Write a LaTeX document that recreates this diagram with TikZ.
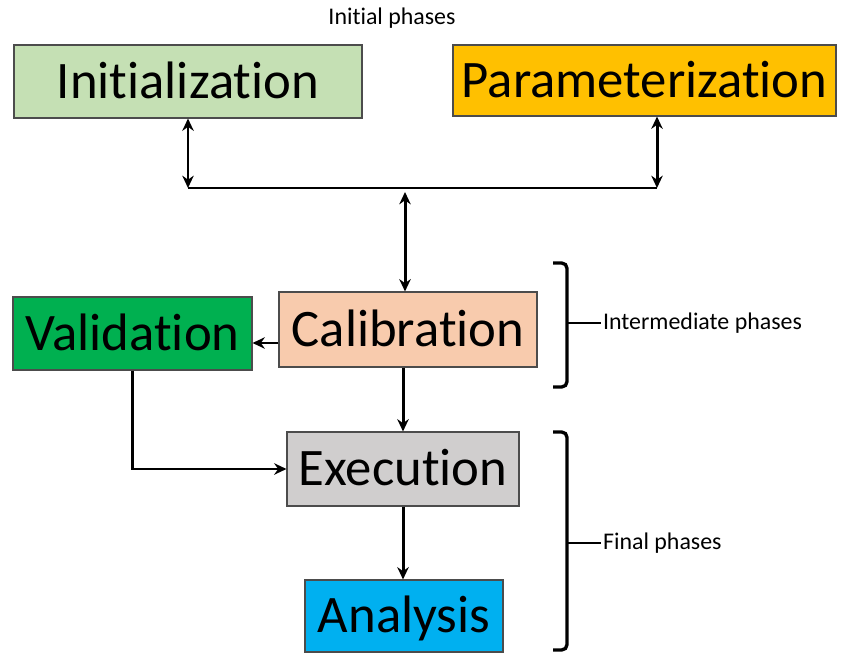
\documentclass[tikz,border=0pt]{standalone}
\usepackage{fontspec}
\setmainfont[Ligatures=NoCommon]{Carlito}
\usetikzlibrary{arrows.meta,positioning}

\definecolor{initgreen}{HTML}{C5E0B4}
\definecolor{paramorange}{HTML}{FFC000}
\definecolor{calibpeach}{HTML}{F8CBAD}
\definecolor{validgreen}{HTML}{00B050}
\definecolor{execgrey}{HTML}{D0CECE}
\definecolor{analysisblue}{HTML}{00B0F0}

\begin{document}
\begin{tikzpicture}[
  phasebox/.style = {shape=rectangle, draw=black!70, line width=0.6pt,
    inner sep=0pt, text height=19.3pt, text depth=0pt,
    font=\fontsize{30}{35}\selectfont},
  phase/.style = {font=\fontsize{13.6}{16}\selectfont, inner sep=1pt},
  link/.style = {line width=1.7pt, -{Stealth[length=7pt,width=6.5pt]}},
  dlink/.style = {line width=1.7pt,
    {Stealth[length=7pt,width=6.5pt]}-{Stealth[length=7pt,width=6.5pt]}},
  brace/.style = {line width=1.9pt, rounded corners=3pt}]
  \useasboundingbox (0,0) rectangle (16.92,13.1);

  % initial phases
  \node[phase] (initial) at (7.84,12.74) {Initial phases};
  \node[phasebox, fill=initgreen, minimum width=6.96cm, minimum height=1.46cm]
    (init) at (3.76,11.47) {Initialization};
  \node[phasebox, fill=paramorange, minimum width=7.66cm, minimum height=1.42cm]
    (param) at (12.89,11.49) {Parameterization};

  % intermediate + final phases
  \node[phasebox, fill=calibpeach, minimum width=5.16cm, minimum height=1.5cm]
    (calib) at (8.16,6.51) {Calibration};
  \node[phasebox, fill=validgreen, minimum width=4.78cm, minimum height=1.46cm]
    (valid) at (2.65,6.43) {Validation};
  \node[phasebox, fill=execgrey, minimum width=4.64cm, minimum height=1.48cm]
    (exec) at (8.06,3.72) {Execution};
  \node[phasebox, fill=analysisblue, minimum width=3.96cm, minimum height=1.44cm]
    (analysis) at (8.08,0.78) {Analysis};

  % junction line
  \coordinate (jleft) at (3.76,9.34);
  \coordinate (jright) at (13.14,9.34);
  \coordinate (jmid) at (8.10,9.26);
  \draw[line width=1.7pt] (jleft) -- (jright);
  \draw[dlink] (init.south) -- (jleft);
  \draw[dlink] (param.south -| jright) -- (jright);
  \draw[dlink] (jmid) -- (calib.north -| jmid);

  \draw[link] (calib.west |- 0,6.24) -- (valid.east |- 0,6.24);
  \draw[link] (calib.south -| exec.north) -- (exec.north);
  \draw[link] (valid.south) |- (exec.west);
  \draw[link] (exec.south) -- (analysis.north -| exec.south);

  % braces
  \node[phase, anchor=west] (intlab) at (12.02,6.64) {Intermediate phases};
  \node[phase, anchor=west] (finlab) at (12.02,2.24) {Final phases};
  \draw[brace] (11.06,7.84) -- (11.34,7.84) -- (11.34,5.36) -- (11.06,5.36);
  \draw[line width=1.7pt] (11.34,6.64) -- (intlab.west);
  \draw[brace] (11.06,4.46) -- (11.34,4.46) -- (11.34,0.10) -- (11.06,0.10);
  \draw[line width=1.7pt] (11.34,2.24) -- (finlab.west);
\end{tikzpicture}
\end{document}
